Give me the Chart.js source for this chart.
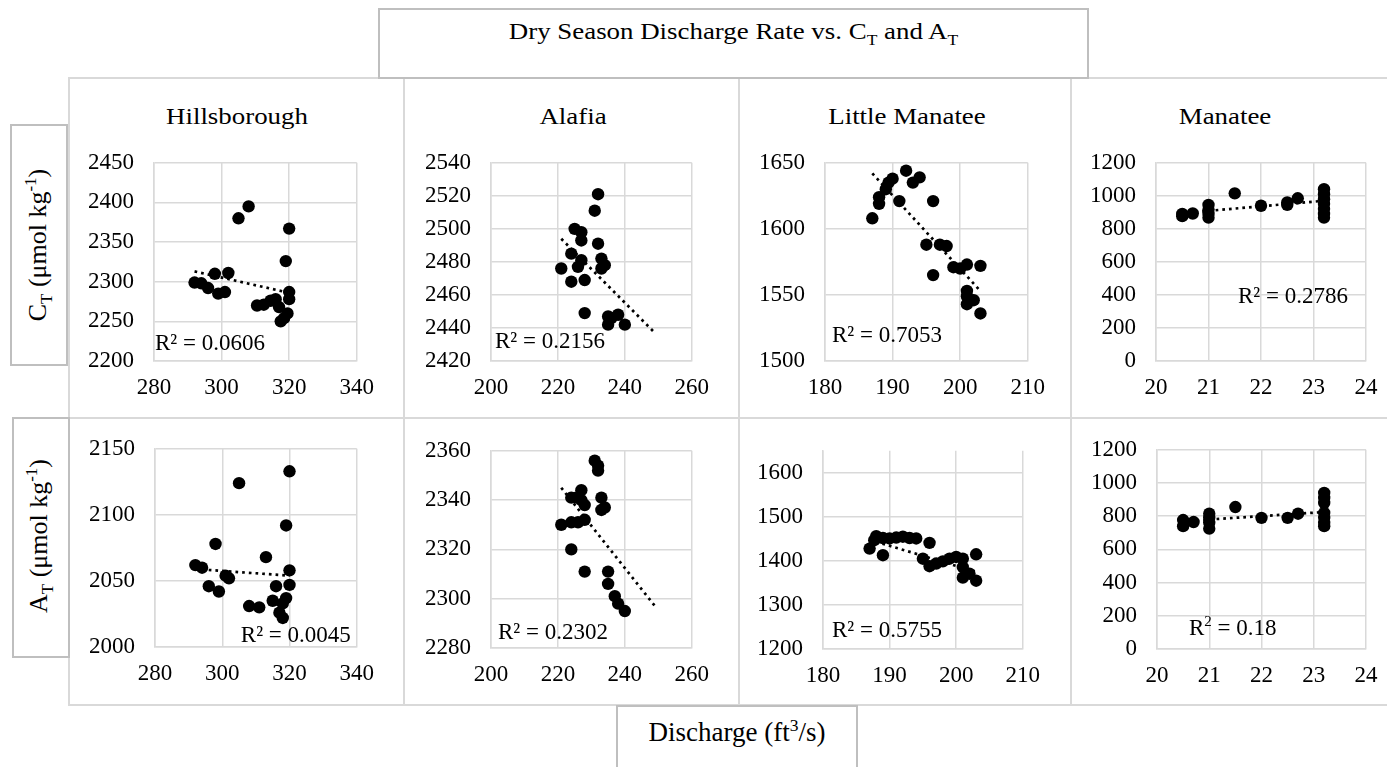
<!DOCTYPE html>
<html><head><meta charset="utf-8">
<script src="https://cdn.jsdelivr.net/npm/chart.js@4.4.0/dist/chart.umd.min.js"></script>
<style>
body{margin:0;width:1387px;height:767px;background:#fff;position:relative;overflow:hidden;font-family:"Liberation Serif","Times New Roman",serif;color:#000}
.ln{position:absolute;background:#d9d9d9}
.box{position:absolute;border:2px solid #bfbfbf;box-sizing:border-box;background:#fff}
.txt{position:absolute;white-space:nowrap;text-align:center}
canvas{position:absolute}
sub,sup{font-size:65%;line-height:0}
</style></head><body>

<div class="ln" style="left:69px;top:77px;width:1318px;height:2px"></div>
<div class="ln" style="left:69px;top:417px;width:1318px;height:2px"></div>
<div class="ln" style="left:69px;top:704px;width:1318px;height:2px"></div>
<div class="ln" style="left:68px;top:77px;width:2px;height:629px"></div>
<div class="ln" style="left:403px;top:77px;width:2px;height:629px"></div>
<div class="ln" style="left:738px;top:77px;width:2px;height:629px"></div>
<div class="ln" style="left:1070px;top:77px;width:2px;height:629px"></div>

<div class="box" style="left:378px;top:8px;width:711px;height:71px"></div>
<div class="txt" style="left:378px;top:19px;width:711px;font-size:24px;line-height:24px;transform:scaleX(1.12)">Dry Season Discharge Rate vs. C<sub>T</sub> and A<sub>T</sub></div>

<div class="txt" style="left:137px;top:104px;width:200px;font-size:24px;line-height:24px;transform:scaleX(1.12)">Hillsborough</div>
<div class="txt" style="left:473px;top:104px;width:200px;font-size:24px;line-height:24px;transform:scaleX(1.12)">Alafia</div>
<div class="txt" style="left:807px;top:104px;width:200px;font-size:24px;line-height:24px;transform:scaleX(1.12)">Little Manatee</div>
<div class="txt" style="left:1125px;top:104px;width:200px;font-size:24px;line-height:24px;transform:scaleX(1.12)">Manatee</div>

<div class="box" style="left:10px;top:124px;width:58px;height:242px"></div>
<div class="txt" style="left:-82px;top:230px;width:240px;height:30px;font-size:26px;line-height:30px;transform:rotate(-90deg)">C<sub>T</sub> (μmol kg<sup>-1</sup>)</div>
<div class="box" style="left:12px;top:417px;width:58px;height:241px"></div>
<div class="txt" style="left:-81px;top:521px;width:240px;height:30px;font-size:26px;line-height:30px;transform:rotate(-90deg)">A<sub>T</sub> (μmol kg<sup>-1</sup>)</div>

<div class="box" style="left:616px;top:705px;width:242px;height:70px"></div>
<div class="txt" style="left:616px;top:719px;width:242px;font-size:27px;line-height:27px">Discharge (ft<sup>3</sup>/s)</div>

<canvas id="c1"></canvas><canvas id="c2"></canvas><canvas id="c3"></canvas><canvas id="c4"></canvas>
<canvas id="c5"></canvas><canvas id="c6"></canvas><canvas id="c7"></canvas><canvas id="c8"></canvas>

<script>
// ---- Data ----
const hillsCT_x = [308, 305, 320, 319, 302, 298, 292, 294, 296, 299, 301, 310.5, 312.5, 314.5, 316, 317, 320, 320, 319.5, 317.5, 318.5];
const hillsCT_y = [2395, 2380, 2367, 2326, 2311, 2310, 2299, 2298, 2292, 2285, 2287, 2270, 2271, 2276, 2278, 2268, 2287, 2278, 2260, 2250, 2254];
const hillsCT_trendX = [292, 320];
const hillsCT_trendY = [2313, 2286];

const alafiaCT_x = [232, 231, 225, 227, 227, 232, 224, 227, 233, 234, 233, 221, 226, 224, 228, 228, 235, 238, 235, 240, 236];
const alafiaCT_y = [2521, 2511, 2500, 2498, 2493, 2491, 2485, 2481, 2482, 2478, 2476, 2476, 2477, 2468, 2469, 2449, 2447, 2448, 2442, 2442, 2446];
const alafiaCT_trendX = [221, 249];
const alafiaCT_trendY = [2494, 2437];

const litManCT_x = [192, 194, 193, 190, 189.4, 189, 188, 188, 191, 196, 187, 195, 197, 198, 199, 200, 201, 203, 196, 201, 201, 202, 201, 203];
const litManCT_y = [1644, 1639, 1635, 1638, 1635, 1630, 1624, 1619, 1621, 1621, 1608, 1588, 1588, 1587, 1571, 1570, 1573, 1572, 1565, 1553, 1549, 1546, 1543, 1536];
const litManCT_trendX = [187, 203];
const litManCT_trendY = [1642, 1553];

const manCT_x = [20.5, 20.5, 20.7, 21, 21, 21, 21, 21.5, 22, 22.5, 22.5, 22.7, 23.2, 23.2, 23.2, 23.2, 23.2, 23.2, 23.2];
const manCT_y = [890, 877, 893, 945, 917, 890, 868, 1015, 940, 945, 960, 985, 1040, 1010, 980, 950, 920, 890, 868];
const manCT_trendX = [20.5, 23.2];
const manCT_trendY = [895, 970];

const hillsAT_x = [320, 305, 319, 298, 313, 292, 294, 301, 302, 320, 320, 316, 296, 299, 308, 311, 315, 319, 318, 317, 318];
const hillsAT_y = [2133, 2124, 2092, 2078, 2068, 2062, 2060, 2054, 2052, 2058, 2047, 2046, 2046, 2042, 2031, 2030, 2035, 2037, 2033, 2026, 2022];
const hillsAT_trendX = [292, 320];
const hillsAT_trendY = [2059, 2054];

const alafiaAT_x = [231, 232, 232, 227, 224, 225.5, 227, 228, 233, 234, 233, 221, 224, 226, 228, 224, 228, 235, 235, 237, 238, 240];
const alafiaAT_y = [2356, 2354, 2352, 2344, 2341, 2341, 2340, 2338, 2341, 2337, 2336, 2330, 2331, 2331, 2332, 2320, 2311, 2311, 2306, 2301, 2298, 2295];
const alafiaAT_trendX = [221, 249];
const alafiaAT_trendY = [2345, 2297];

const litManAT_x = [188, 187, 189, 187.7, 189, 190, 191, 192, 193, 194, 196, 195, 196, 197, 198, 199, 200, 201, 201, 201, 202, 203, 203];
const litManAT_y = [1456, 1428, 1413, 1447, 1452, 1451, 1453, 1455, 1452, 1451, 1441, 1405, 1388, 1394, 1399, 1405, 1409, 1405, 1386, 1362, 1371, 1415, 1355];
const litManAT_trendX = [187, 203];
const litManAT_trendY = [1448, 1375];

const manAT_x = [20.5, 20.5, 20.7, 21, 21, 21, 21, 21.5, 22, 22.5, 22.7, 23.2, 23.2, 23.2, 23.2, 23.2, 23.2, 23.2];
const manAT_y = [777, 740, 765, 815, 790, 760, 725, 855, 790, 790, 815, 940, 910, 880, 820, 790, 760, 740];
const manAT_trendX = [20.5, 23.2];
const manAT_trendY = [770, 825];

const r2Labels = ["R² = 0.0606", "R² = 0.2156", "R² = 0.7053", "R² = 0.2786", "R² = 0.0045", "R² = 0.2302", "R² = 0.5755", "R2 = 0.18"];

// axis ranges: [min, max, step]
const xHills = [280, 340, 20], xAlafia = [200, 260, 20], xLitMan = [180, 210, 10], xMan = [20, 24, 1];
const yHillsCT = [2200, 2450, 50], yAlafiaCT = [2420, 2540, 20], yLitManCT = [1500, 1650, 50], yManCT = [0, 1200, 200];
const yHillsAT = [2000, 2150, 50], yAlafiaAT = [2280, 2360, 20], yLitManAT = [1200, 1650, 100], yManAT = [0, 1200, 200];

// ---- Layout: page pixels of each plot area ----
const panels = [
  {id:'c1', x:hillsCT_x, y:hillsCT_y, tx:hillsCT_trendX, ty:hillsCT_trendY, r2:r2Labels[0], xr:xHills, yr:yHillsCT, area:[154,163,357,361], lab:{align:'left', dx:1, base:187}},
  {id:'c2', x:alafiaCT_x, y:alafiaCT_y, tx:alafiaCT_trendX, ty:alafiaCT_trendY, r2:r2Labels[1], xr:xAlafia, yr:yAlafiaCT, area:[491,163,692,361], lab:{align:'left', dx:4, base:185}},
  {id:'c3', x:litManCT_x, y:litManCT_y, tx:litManCT_trendX, ty:litManCT_trendY, r2:r2Labels[2], xr:xLitMan, yr:yLitManCT, area:[825,163,1028,361], lab:{align:'left', dx:7, base:179}},
  {id:'c4', x:manCT_x, y:manCT_y, tx:manCT_trendX, ty:manCT_trendY, r2:r2Labels[3], xr:xMan, yr:yManCT, area:[1156,163,1366,361], lab:{align:'left', dx:82, base:140}},
  {id:'c5', x:hillsAT_x, y:hillsAT_y, tx:hillsAT_trendX, ty:hillsAT_trendY, r2:r2Labels[4], xr:xHills, yr:yHillsAT, area:[155,449,357,647], lab:{align:'right', dx:6, base:193}},
  {id:'c6', x:alafiaAT_x, y:alafiaAT_y, tx:alafiaAT_trendX, ty:alafiaAT_trendY, r2:r2Labels[5], xr:xAlafia, yr:yAlafiaAT, area:[491,451,692,648], lab:{align:'left', dx:7, base:188}},
  {id:'c7', x:litManAT_x, y:litManAT_y, tx:litManAT_trendX, ty:litManAT_trendY, r2:r2Labels[6], xr:xLitMan, yr:yLitManAT, area:[823,451,1023,649], lab:{align:'left', dx:9, base:186}},
  {id:'c8', x:manAT_x, y:manAT_y, tx:manAT_trendX, ty:manAT_trendY, r2:r2Labels[7], xr:xMan, yr:yManAT, area:[1157,450,1366,649], lab:{align:'left', dx:32, base:185, sup:true}}
];

const FONT = '"Liberation Serif", "Times New Roman", serif';
const PADL = 70, PADT = 12, PADR = 30, PADB = 45;

const r2Plugin = {
  id: 'r2lab',
  afterDatasetsDraw(chart, args, o) {
    const ca = chart.chartArea, ctx = chart.ctx;
    ctx.save();
    ctx.fillStyle = '#000';
    ctx.textBaseline = 'alphabetic';
    ctx.font = '23px ' + FONT;
    const y = ca.top + o.base;
    if (o.sup) {
      let x = ca.left + o.dx;
      ctx.textAlign = 'left';
      ctx.fillText('R', x, y);
      x += ctx.measureText('R').width;
      ctx.font = '15px ' + FONT;
      ctx.fillText('2', x, y - 9);
      x += ctx.measureText('2').width;
      ctx.font = '23px ' + FONT;
      ctx.fillText(o.text.replace(/^R2/, ''), x, y);
    } else {
      ctx.textAlign = o.align;
      const x = o.align === 'left' ? ca.left + o.dx : ca.right - o.dx;
      ctx.fillText(o.text, x, y);
    }
    ctx.restore();
  }
};

function build(p, cv, W, H) {
  cv.width = W; cv.height = H;
  const pts = p.x.map((v, i) => ({x: v, y: p.y[i]}));
  const tr = p.tx.map((v, i) => ({x: v, y: p.ty[i]}));
  return new Chart(cv, {
    type: 'scatter',
    data: {
      datasets: [
        {type: 'line', data: tr, borderColor: '#000', borderWidth: 2.7, borderDash: [2.7, 4], pointRadius: 0, fill: false, tension: 0},
        {data: pts, backgroundColor: '#000', borderWidth: 0, pointRadius: 6.2, pointHoverRadius: 6.2}
      ]
    },
    options: {
      responsive: false, maintainAspectRatio: false, animation: false,
      layout: {padding: {left: 0, top: PADT, right: PADR, bottom: 0}},
      plugins: {legend: {display: false}, tooltip: {enabled: false}, r2lab: Object.assign({text: p.r2}, p.lab)},
      scales: {
        x: {
          type: 'linear', min: p.xr[0], max: p.xr[1],
          ticks: {stepSize: p.xr[2], color: '#000', font: {family: FONT, size: 23}, padding: 13, maxRotation: 0, autoSkip: false, callback: v => String(v)},
          grid: {color: '#d9d9d9', lineWidth: 1.5, drawTicks: false},
          border: {color: '#d9d9d9', width: 1.5},
          afterFit: s => { s.height = PADB; }
        },
        y: {
          type: 'linear', min: p.yr[0], max: p.yr[1],
          ticks: {stepSize: p.yr[2], includeBounds: false, color: '#000', font: {family: FONT, size: 23}, padding: 20, autoSkip: false, callback: v => String(v)},
          grid: {color: '#d9d9d9', lineWidth: 1.5, drawTicks: false},
          border: {color: '#d9d9d9', width: 1.5},
          afterFit: s => { s.width = PADL; }
        }
      }
    },
    plugins: [r2Plugin]
  });
}

panels.forEach(p => {
  const [l, t, r, b] = p.area;
  const cv = document.getElementById(p.id);
  let W = (r - l) + PADL + PADR, H = (b - t) + PADT + PADB;
  let ch = build(p, cv, W, H);
  let ca = ch.chartArea;
  const dw = (r - l) - (ca.right - ca.left), dh = (b - t) - (ca.bottom - ca.top);
  if (Math.abs(dw) > 0.5 || Math.abs(dh) > 0.5) {
    ch.destroy();
    W = Math.round(W + dw); H = Math.round(H + dh);
    ch = build(p, cv, W, H);
    ca = ch.chartArea;
  }
  cv.style.left = (l - ca.left) + 'px';
  cv.style.top = (t - ca.top) + 'px';
});
</script>
</body></html>
